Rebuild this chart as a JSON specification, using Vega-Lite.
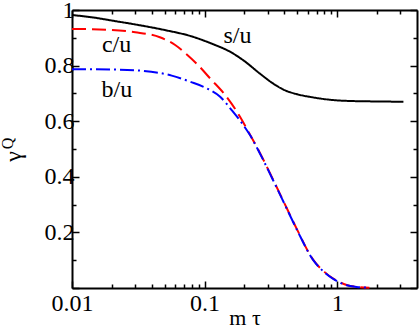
{
  "$schema": "https://vega.github.io/schema/vega-lite/v6.json",
  "width": 345,
  "height": 278,
  "autosize": "none",
  "padding": {"left": 72, "top": 10, "right": 3, "bottom": 39},
  "background": "white",
  "config": {
    "view": {"stroke": null},
    "axis": {
      "grid": false,
      "domainColor": "black",
      "domainWidth": 2,
      "tickColor": "black",
      "tickWidth": 1.5,
      "labelFont": "Liberation Serif",
      "labelFontSize": 24,
      "labelColor": "black",
      "labelFlush": false,
      "labelOverlap": false,
      "labelBound": false,
      "titleFont": "Liberation Serif",
      "titleFontSize": 24,
      "titleFontWeight": "normal",
      "titleColor": "black"
    }
  },
  "datasets": {
    "curves": [
      {"series": "s/u", "x": 0.01, "y": 0.982},
      {"series": "s/u", "x": 0.015, "y": 0.972},
      {"series": "s/u", "x": 0.02, "y": 0.962},
      {"series": "s/u", "x": 0.03, "y": 0.948},
      {"series": "s/u", "x": 0.05, "y": 0.928},
      {"series": "s/u", "x": 0.08, "y": 0.905},
      {"series": "s/u", "x": 0.12, "y": 0.874},
      {"series": "s/u", "x": 0.15, "y": 0.854},
      {"series": "s/u", "x": 0.2, "y": 0.816},
      {"series": "s/u", "x": 0.26, "y": 0.772},
      {"series": "s/u", "x": 0.33, "y": 0.735},
      {"series": "s/u", "x": 0.4, "y": 0.712},
      {"series": "s/u", "x": 0.5, "y": 0.697},
      {"series": "s/u", "x": 0.65, "y": 0.686},
      {"series": "s/u", "x": 0.85, "y": 0.678},
      {"series": "s/u", "x": 1.2, "y": 0.673},
      {"series": "s/u", "x": 2, "y": 0.671},
      {"series": "s/u", "x": 3.16, "y": 0.67},
      {"series": "c/u", "x": 0.01, "y": 0.932},
      {"series": "c/u", "x": 0.02, "y": 0.928},
      {"series": "c/u", "x": 0.03, "y": 0.92},
      {"series": "c/u", "x": 0.046, "y": 0.902},
      {"series": "c/u", "x": 0.06, "y": 0.874},
      {"series": "c/u", "x": 0.0734, "y": 0.84},
      {"series": "c/u", "x": 0.09, "y": 0.8},
      {"series": "c/u", "x": 0.11, "y": 0.754},
      {"series": "c/u", "x": 0.143, "y": 0.694},
      {"series": "c/u", "x": 0.185, "y": 0.616},
      {"series": "c/u", "x": 0.214, "y": 0.562},
      {"series": "c/u", "x": 0.262, "y": 0.485},
      {"series": "c/u", "x": 0.33, "y": 0.388},
      {"series": "c/u", "x": 0.417, "y": 0.287},
      {"series": "c/u", "x": 0.5, "y": 0.209},
      {"series": "c/u", "x": 0.66, "y": 0.101},
      {"series": "c/u", "x": 0.8, "y": 0.058},
      {"series": "c/u", "x": 0.94, "y": 0.033},
      {"series": "c/u", "x": 1.18, "y": 0.011},
      {"series": "c/u", "x": 1.4, "y": 0.004},
      {"series": "c/u", "x": 1.75, "y": 0.001},
      {"series": "b/u", "x": 0.01, "y": 0.787},
      {"series": "b/u", "x": 0.02, "y": 0.786},
      {"series": "b/u", "x": 0.0326, "y": 0.782},
      {"series": "b/u", "x": 0.0565, "y": 0.764},
      {"series": "b/u", "x": 0.0778, "y": 0.742},
      {"series": "b/u", "x": 0.104, "y": 0.718},
      {"series": "b/u", "x": 0.131, "y": 0.688},
      {"series": "b/u", "x": 0.16, "y": 0.64},
      {"series": "b/u", "x": 0.196, "y": 0.586},
      {"series": "b/u", "x": 0.22, "y": 0.55},
      {"series": "b/u", "x": 0.262, "y": 0.483},
      {"series": "b/u", "x": 0.33, "y": 0.386},
      {"series": "b/u", "x": 0.417, "y": 0.285},
      {"series": "b/u", "x": 0.5, "y": 0.207},
      {"series": "b/u", "x": 0.66, "y": 0.1},
      {"series": "b/u", "x": 0.8, "y": 0.057},
      {"series": "b/u", "x": 0.94, "y": 0.032},
      {"series": "b/u", "x": 1.18, "y": 0.01},
      {"series": "b/u", "x": 1.4, "y": 0.004},
      {"series": "b/u", "x": 1.75, "y": 0.001}
    ],
    "labels": [
      {"label": "s/u", "x": 0.177, "y": 0.906},
      {"label": "c/u", "x": 0.0217, "y": 0.874},
      {"label": "b/u", "x": 0.0218, "y": 0.712}
    ]
  },
  "layer": [
    {
      "data": {"name": "curves"},
      "mark": {"type": "line", "strokeWidth": 2, "interpolate": "monotone"},
      "encoding": {
        "x": {
          "field": "x", "type": "quantitative",
          "scale": {"type": "log", "domain": [0.01, 4], "nice": false},
          "axis": {
            "orient": "bottom",
            "values": [0.01,0.02,0.03,0.04,0.05,0.06,0.07,0.08,0.09,0.1,0.2,0.3,0.4,0.5,0.6,0.7,0.8,0.9,1,2,3],
            "labelExpr": "(datum.value == 0.01 || datum.value == 0.1 || datum.value == 1) ? datum.label : ''",
            "tickSize": {"condition": {"test": "datum.value == 0.01 || datum.value == 0.1 || datum.value == 1", "value": -7}, "value": -4},
            "labelPadding": 10,
            "title": "m τ",
            "titleFontSize": 22,
            "titleBaseline": "alphabetic",
            "titleY": 36
          }
        },
        "y": {
          "field": "y", "type": "quantitative",
          "scale": {"domain": [0, 1], "nice": false},
          "axis": {
            "orient": "left",
            "values": [0,0.1,0.2,0.3,0.4,0.5,0.6,0.7,0.8,0.9,1],
            "labelExpr": "datum.value == 1 ? '1' : ((datum.value > 0.01 && round(datum.value*10) % 2 == 0) ? format(datum.value, '.1f') : '')",
            "tickSize": {"condition": {"test": "round(datum.value*10) % 2 == 0", "value": -7}, "value": -4},
            "labelPadding": 5,
            "title": "γ",
            "titleX": -47,
            "titleY": 146
          }
        },
        "color": {
          "field": "series", "type": "nominal",
          "scale": {"domain": ["s/u", "c/u", "b/u"], "range": ["#000000", "#ff0000", "#0000ff"]},
          "legend": null
        },
        "strokeDash": {
          "field": "series", "type": "nominal",
          "scale": {"domain": ["s/u", "c/u", "b/u"], "range": [[1, 0], [14, 6], [14, 4, 2, 4]]},
          "legend": null
        }
      }
    },
    {
      "data": {"name": "labels"},
      "mark": {"type": "text", "font": "Liberation Serif", "fontSize": 24, "color": "black", "align": "center", "baseline": "middle"},
      "encoding": {
        "x": {
          "field": "x", "type": "quantitative",
          "axis": {
            "orient": "top",
            "values": [0.01,0.02,0.03,0.04,0.05,0.06,0.07,0.08,0.09,0.1,0.2,0.3,0.4,0.5,0.6,0.7,0.8,0.9,1,2,3],
            "labels": false,
            "title": null,
            "tickSize": {"condition": {"test": "datum.value == 0.01 || datum.value == 0.1 || datum.value == 1", "value": -7}, "value": -4}
          }
        },
        "y": {
          "field": "y", "type": "quantitative",
          "axis": {
            "orient": "right",
            "values": [0,0.1,0.2,0.3,0.4,0.5,0.6,0.7,0.8,0.9,1],
            "labels": false,
            "title": null,
            "tickSize": {"condition": {"test": "round(datum.value*10) % 2 == 0", "value": -7}, "value": -4}
          }
        },
        "text": {"field": "label"}
      }
    },
    {
      "data": {"values": [{"t": "Q", "x": 0.0033, "y": 0.52}]},
      "mark": {"type": "text", "font": "Liberation Serif", "fontSize": 16, "color": "black", "angle": 270, "align": "center", "baseline": "middle"},
      "encoding": {
        "x": {"field": "x", "type": "quantitative", "axis": null},
        "y": {"field": "y", "type": "quantitative", "axis": null},
        "text": {"field": "t"}
      }
    }
  ]
}
